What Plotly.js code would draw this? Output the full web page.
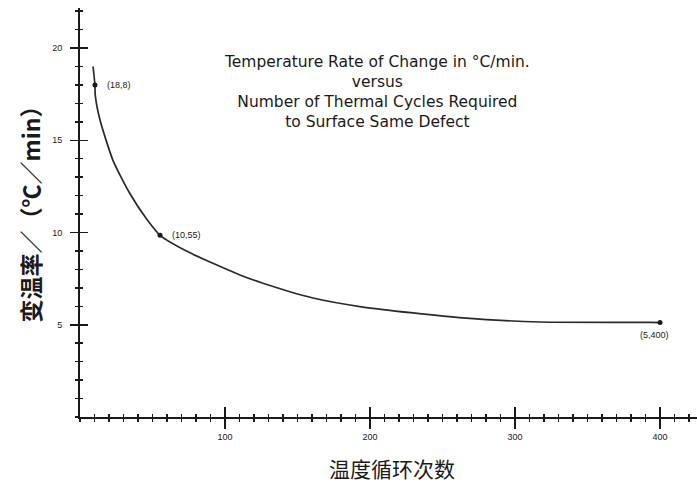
<!DOCTYPE html>
<html>
<head>
<meta charset="utf-8">
<script src="https://cdn.plot.ly/plotly-3.0.1.min.js"></script>
<style>html,body{margin:0;padding:0;background:#fff;}#chart{width:697px;height:484px;}</style>
</head>
<body>
<div id="chart"></div>
<script>
// Curve: number of thermal cycles vs. temperature rate of change (°C/min)
const cycles = [9, 10.3, 10.5, 13.8, 22.8, 34.5, 46.2, 55.2, 75.9, 110.3, 126.2, 160.7, 195.2, 229.7, 264.1, 317.2, 393, 400];
const rate   = [19.0, 18.0, 17.45, 16.1, 13.9, 12.1, 10.7, 9.85, 8.9, 7.7, 7.25, 6.45, 5.96, 5.64, 5.37, 5.15, 5.13, 5.12];

// Labelled points
const ptCycles = [10.3, 55.2, 400];
const ptRate   = [18.0, 9.85, 5.12];
const ptLabels = ['(18,8)', '(10,55)', '(5,400)'];

const xTickVals = [100, 200, 300, 400];
const xTickText = ['100', '200', '300', '400'];
const yTickVals = [5, 10, 15, 20];
const yTickText = ['5', '10', '15', '20'];

const titleLines = ['Temperature Rate of Change in °C/min.', 'versus', 'Number of Thermal Cycles Required', 'to Surface Same Defect'];
const xTitle = '温度循环次数';
const yTitle = '变温率／（℃／min）';

const XR = [0, 425.5], YR = [0, 22.17];
const ink = '#1a1a1a';

const traces = [
  {x: cycles, y: rate, type: 'scatter', mode: 'lines', line: {color: '#2a2a2a', width: 1.7, shape: 'spline', smoothing: 0.6}, hoverinfo: 'skip'},
  {x: ptCycles, y: ptRate, type: 'scatter', mode: 'markers', marker: {color: ink, size: 5}, hoverinfo: 'skip'},
  {x: [], y: [], xaxis: 'x2', yaxis: 'y2', type: 'scatter'}
];

const annLabels = ptLabels.map((t, i) => ({
  x: ptCycles[i], y: ptRate[i], xref: 'x', yref: 'y', text: t, showarrow: false,
  font: {family: 'Liberation Sans', size: 9, color: ink},
  xanchor: i === 2 ? 'center' : 'left', yanchor: 'middle',
  xshift: i === 2 ? -6 : 10, yshift: i === 2 ? -12 : 0
}));

const layout = {
  width: 697, height: 484,
  margin: {l: 80, r: 0, t: 8, b: 67},
  paper_bgcolor: '#fff', plot_bgcolor: '#fff',
  showlegend: false,
  xaxis: {range: XR, showgrid: false, zeroline: false, showline: true, linecolor: ink, linewidth: 2,
    tickmode: 'array', tickvals: xTickVals, ticktext: xTickText, ticks: 'outside', ticklen: 10, tickwidth: 1.5, tickcolor: ink,
    tickfont: {family: 'Liberation Sans', size: 9, color: ink},
    minor: {tickmode: 'linear', tick0: 0, dtick: 10, ticks: 'outside', ticklen: 3, tickwidth: 1.5, tickcolor: ink, showgrid: false}},
  yaxis: {range: YR, showgrid: false, zeroline: false, showline: true, linecolor: ink, linewidth: 2,
    tickmode: 'array', tickvals: yTickVals, ticktext: yTickText, ticks: 'outside', ticklen: 8, tickwidth: 1.5, tickcolor: ink,
    ticklabelstandoff: 6,
    tickfont: {family: 'Liberation Sans', size: 9, color: ink},
    minor: {tickmode: 'linear', tick0: 0, dtick: 1, ticks: 'outside', ticklen: 3, tickwidth: 1.5, tickcolor: ink, showgrid: false}},
  xaxis2: {range: XR, overlaying: 'x', anchor: 'y2', side: 'bottom', showgrid: false, zeroline: false, showline: false, showticklabels: false,
    tickmode: 'array', tickvals: xTickVals, ticks: 'inside', ticklen: 10, tickwidth: 1.5, tickcolor: ink,
    minor: {tickmode: 'linear', tick0: 0, dtick: 10, ticks: 'inside', ticklen: 3, tickwidth: 1.5, tickcolor: ink, showgrid: false}},
  yaxis2: {range: YR, overlaying: 'y', anchor: 'x2', side: 'left', showgrid: false, zeroline: false, showline: false, showticklabels: false,
    tickmode: 'array', tickvals: yTickVals, ticks: 'inside', ticklen: 8, tickwidth: 1.5, tickcolor: ink,
    minor: {tickmode: 'linear', tick0: 0, dtick: 1, ticks: 'inside', ticklen: 3, tickwidth: 1.5, tickcolor: ink, showgrid: false}},
  annotations: [
    {xref: 'paper', yref: 'paper', x: 0.481, y: 0.795, text: titleLines.join('<br>'), showarrow: false,
     xanchor: 'center', yanchor: 'middle', align: 'center',
     font: {family: 'DejaVu Sans', size: 15.5, color: ink}},
    {xref: 'paper', yref: 'paper', x: -0.081, y: 0.51, text: yTitle, textangle: -90, showarrow: false,
     xanchor: 'center', yanchor: 'middle',
     font: {family: 'Noto Sans CJK SC', size: 23, color: ink, weight: 'bold'}},
    {xref: 'paper', yref: 'paper', x: 0.506, y: -0.125, text: xTitle, showarrow: false,
     xanchor: 'center', yanchor: 'middle',
     font: {family: 'Noto Sans CJK SC', size: 21, color: ink}}
  ].concat(annLabels)
};

Plotly.newPlot('chart', traces, layout, {displayModeBar: false, staticPlot: true});
</script>
</body>
</html>
